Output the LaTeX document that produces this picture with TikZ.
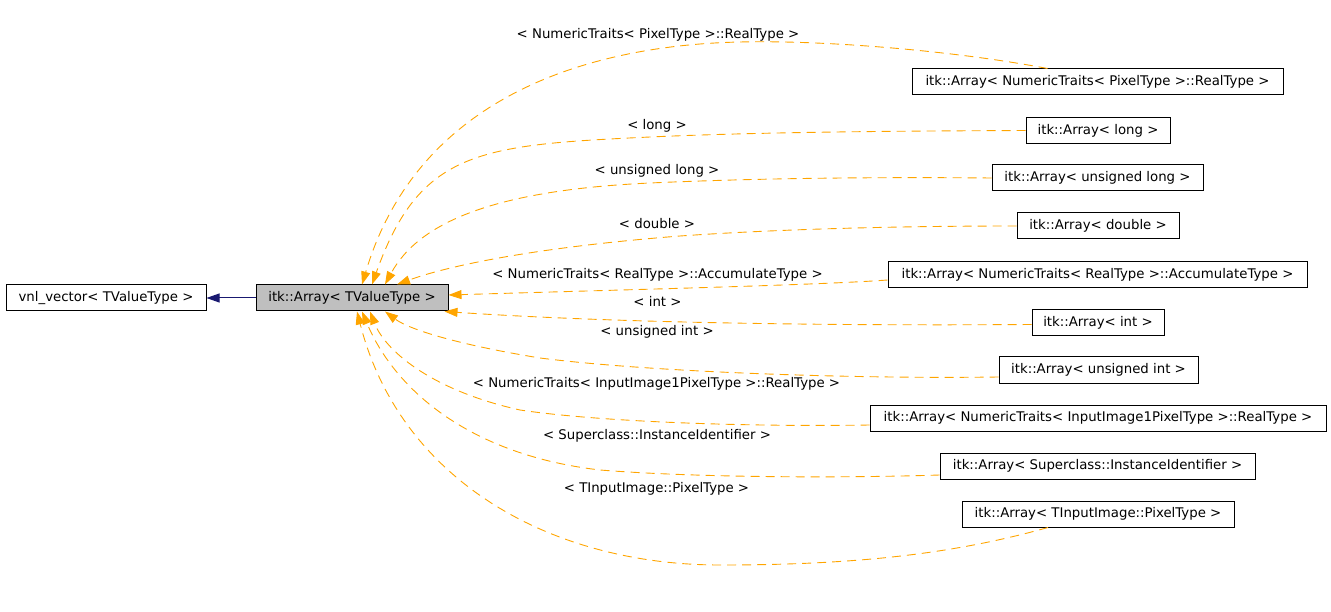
\documentclass[tikz,border=0pt]{standalone}
\usepackage{fontspec}
\setmainfont{DejaVu Sans}
\usetikzlibrary{arrows.meta}
\definecolor{edgeorange}{HTML}{FFA500}
\definecolor{navyblue}{HTML}{191970}
\definecolor{boxgray}{HTML}{BFBFBF}
\begin{document}
\begin{tikzpicture}[x=1pt,y=-1pt,
  font=\fontsize{13.3}{16}\selectfont,
  cls/.style={draw=black, line width=1pt, minimum height=26pt, inner sep=0pt, anchor=center},
  tmpl/.style={draw=edgeorange, line width=0.9pt, dash pattern=on 9pt off 6pt,
     -{Triangle[length=13pt,width=9pt,fill=edgeorange]}},
  inh/.style={draw=navyblue, line width=1pt, -{Triangle[length=13pt,width=9pt,fill=navyblue]}},
  lbl/.style={inner sep=0pt, anchor=center}]
\useasboundingbox (0,0) rectangle (1331,612);

% main nodes
\node[cls, minimum width=200pt] (vnl) at (106,298) {vnl\_vector< TValueType >};
\node[cls, minimum width=192pt, fill=boxgray] (arr) at (352,298) {itk::Array< TValueType >};

% instantiations
\node[cls, minimum width=371pt] (n1) at (1097.5,82) {itk::Array< NumericTraits< PixelType >::RealType >};
\node[cls, minimum width=144pt] (n2) at (1098,130.5) {itk::Array< long >};
\node[cls, minimum width=211pt] (n3) at (1097.5,178) {itk::Array< unsigned long >};
\node[cls, minimum width=162pt] (n4) at (1098,226) {itk::Array< double >};
\node[cls, minimum width=419pt] (n5) at (1097.5,275) {itk::Array< NumericTraits< RealType >::AccumulateType >};
\node[cls, minimum width=132pt] (n6) at (1098,322.5) {itk::Array< int >};
\node[cls, minimum width=199pt] (n7) at (1098.5,370) {itk::Array< unsigned int >};
\node[cls, minimum width=456pt] (n8) at (1098,418) {itk::Array< NumericTraits< InputImage1PixelType >::RealType >};
\node[cls, minimum width=315pt] (n9) at (1097.5,466) {itk::Array< Superclass::InstanceIdentifier >};
\node[cls, minimum width=272pt] (n10) at (1098,514) {itk::Array< TInputImage::PixelType >};

% inheritance
\draw[inh] (arr.west) -- (vnl.east);

% template edges
\draw[tmpl] ([xshift=-50pt]n1.north) .. controls (950,50) and (820,40) .. (740,42)
   .. controls (600,45) and (420,90) .. ([xshift=10pt]arr.north);
\draw[tmpl] (n2.west) .. controls (900,131) and (760,132) .. (650,137)
   .. controls (480,145) and (420,150) .. ([xshift=20pt]arr.north);
\draw[tmpl] (n3.west) .. controls (880,177) and (760,178) .. (650,183)
   .. controls (500,190) and (420,220) .. ([xshift=33pt]arr.north);
\draw[tmpl] (n4.west) .. controls (900,226) and (780,229) .. (680,236)
   .. controls (540,247) and (450,265) .. ([xshift=45pt]arr.north);
\draw[tmpl] ([yshift=-5pt]n5.west) .. controls (820,285) and (650,289) .. ([yshift=3pt]arr.east);
\draw[tmpl] ([yshift=-2pt]n6.west) .. controls (800,326) and (600,322) .. ([xshift=-4pt]arr.south east);
\draw[tmpl] ([yshift=-7pt]n7.west) .. controls (850,379) and (650,372) .. (540,358)
   .. controls (460,345) and (410,330) .. ([xshift=33pt]arr.south);
\draw[tmpl] ([yshift=-7pt]n8.west) .. controls (750,427) and (600,422) .. (520,410)
   .. controls (430,390) and (385,350) .. ([xshift=18pt]arr.south);
\draw[tmpl] ([yshift=-9pt]n9.west) .. controls (850,478) and (700,478) .. (600,470)
   .. controls (470,455) and (395,390) .. ([xshift=10pt]arr.south);
\draw[tmpl] ([xshift=-50pt]n10.south) .. controls (950,555) and (850,565) .. (720,565)
   .. controls (550,565) and (400,480) .. ([xshift=5pt]arr.south);

% labels
\node[lbl] (l1) at (658,35) {< NumericTraits< PixelType >::RealType >};
\node[lbl] (l2) at (657,126) {< long >};
\node[lbl] (l3) at (657,171) {< unsigned long >};
\node[lbl] (l4) at (657,224) {< double >};
\node[lbl] (l5) at (657.5,275) {< NumericTraits< RealType >::AccumulateType >};
\node[lbl] (l6) at (657.5,301) {< int >};
\node[lbl] (l7) at (657,332) {< unsigned int >};
\node[lbl] (l8) at (656.5,384) {< NumericTraits< InputImage1PixelType >::RealType >};
\node[lbl] (l9) at (657,436) {< Superclass::InstanceIdentifier >};
\node[lbl] (l10) at (656.5,489) {< TInputImage::PixelType >};
\end{tikzpicture}
\end{document}
